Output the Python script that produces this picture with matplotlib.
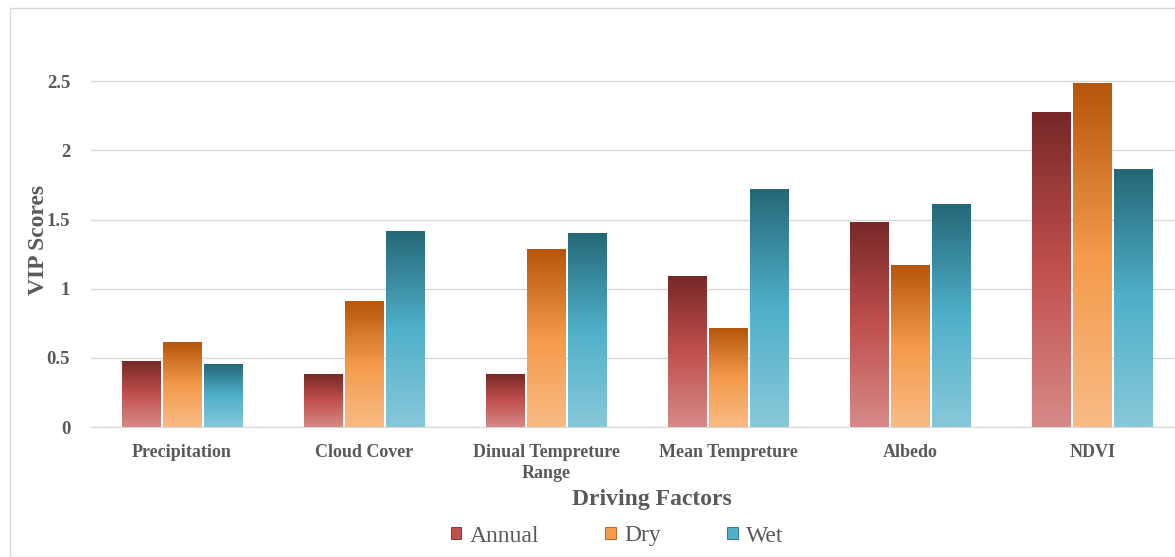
import numpy as np
import matplotlib
matplotlib.use("Agg")
import matplotlib.pyplot as plt
from matplotlib.colors import LinearSegmentedColormap
from matplotlib.patches import Rectangle

# data
factors = ["Precipitation", "Cloud Cover", "Dinual Tempreture\nRange",
           "Mean Tempreture", "Albedo", "NDVI"]
annual = [0.47, 0.38, 0.38, 1.09, 1.48, 2.27]
dry = [0.61, 0.91, 1.28, 0.71, 1.17, 2.48]
wet = [0.45, 1.41, 1.40, 1.72, 1.61, 1.86]
series_names = ["Annual", "Dry", "Wet"]

# gradient colours: bottom (light) -> middle -> top (dark)
gradients = {
    "Annual": ["#d68a88", "#c0504d", "#772828"],
    "Dry": ["#f9bb85", "#f49a4a", "#b5560b"],
    "Wet": ["#88c8d9", "#4fb0ca", "#256877"],
}

plt.rcParams["font.family"] = ["Liberation Serif", "DejaVu Serif"]
text_col = "#595959"

fig = plt.figure(figsize=(11.75, 5.57), dpi=100)
ax = fig.add_axes([91 / 1175, 1 - 427 / 557, 1 - 91 / 1175, (427 - 12) / 557])

x = np.arange(len(factors))
width = 0.21
step = 0.225
grad = np.linspace(0, 1, 256).reshape(-1, 1)

for i, (name, vals) in enumerate(zip(series_names, [annual, dry, wet])):
    cmap = LinearSegmentedColormap.from_list(name, gradients[name])
    bars = ax.bar(x + (i - 1) * step, vals, width, color=gradients[name][1],
                  edgecolor="none", label=name, zorder=2)
    for b in bars:
        b.set_alpha(0)
        x0, y0 = b.get_x(), b.get_y()
        ax.imshow(grad, cmap=cmap, origin="lower", aspect="auto",
                  extent=[x0, x0 + b.get_width(), y0, y0 + b.get_height()],
                  zorder=3)

ax.set_xlim(-0.5, 5.455)
ax.set_ylim(0, 3)
ax.set_yticks([0, 0.5, 1, 1.5, 2, 2.5])
ax.set_yticklabels(["0", "0.5", "1", "1.5", "2", "2.5"])
ax.set_xticks(x)
ax.set_xticklabels(factors, linespacing=1.3)
ax.grid(axis="y", color="#d9d9d9", linewidth=1, zorder=0)
for s in ["top", "right", "left"]:
    ax.spines[s].set_visible(False)
ax.spines["bottom"].set_color("#d9d9d9")
ax.tick_params(axis="y", length=0, colors=text_col, labelsize=13.5, pad=15)
ax.tick_params(axis="x", length=0, colors=text_col, labelsize=13, pad=12)
for lab in ax.get_xticklabels() + ax.get_yticklabels():
    lab.set_fontweight("bold")
    lab.set_color(text_col)

ax.set_ylabel("VIP Scores", fontsize=17, fontweight="bold", color=text_col)
ax.yaxis.set_label_coords(-42 / 1084, 0.45)
ax.set_xlabel("Driving Factors", fontsize=17, fontweight="bold",
              color=text_col)
ax.xaxis.set_label_coords(0.517, -62 / 415)

# legend squares
handles = [Rectangle((0, 0), 1, 1, facecolor=gradients[n][1],
                     edgecolor=gradients[n][2], linewidth=0.6)
           for n in series_names]
leg = fig.legend(handles, series_names, loc="center",
                 bbox_to_anchor=(617 / 1175, 1 - 536 / 557), ncol=3,
                 frameon=False, fontsize=17, handlelength=0.45,
                 handleheight=0.45, handletextpad=0.35, columnspacing=2.8)
for t in leg.get_texts():
    t.set_color(text_col)

# outer chart border
fig.patches.append(Rectangle((10 / 1175, 0), 1.2, 1 - 8 / 557,
                             transform=fig.transFigure, fill=False,
                             edgecolor="#d9d9d9", linewidth=1))

fig.savefig("out.png", dpi=100)
